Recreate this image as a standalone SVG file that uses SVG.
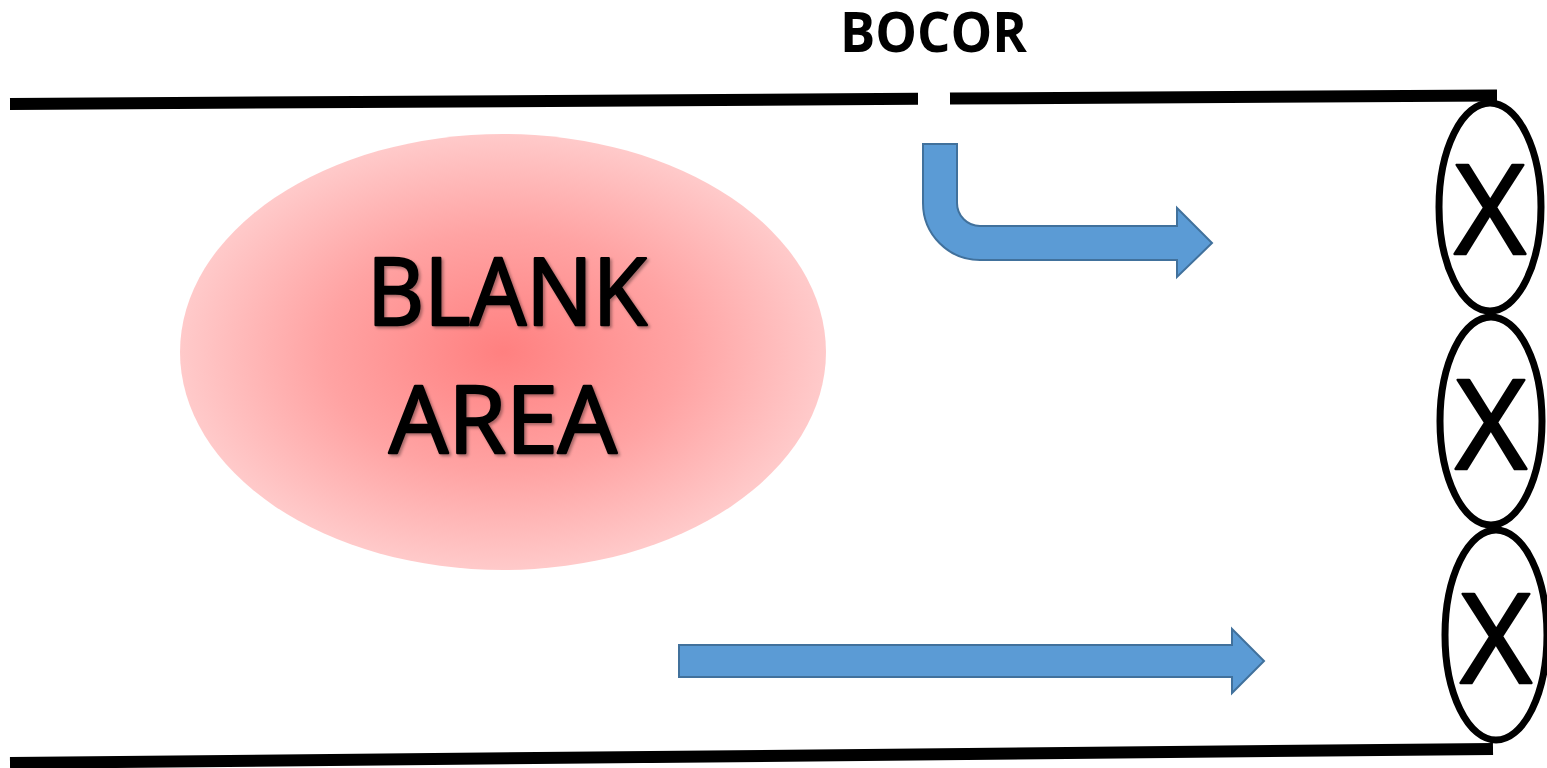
<svg xmlns="http://www.w3.org/2000/svg" width="1547" height="768" viewBox="0 0 1547 768">
  <defs>
    <radialGradient id="blankGrad" cx="0.5" cy="0.5" r="0.5">
      <stop offset="0" stop-color="#ff8080"/>
      <stop offset="0.55" stop-color="#ffa3a3"/>
      <stop offset="1" stop-color="#ffcaca"/>
    </radialGradient>
    <filter id="shadow" x="-10%" y="-10%" width="120%" height="130%">
      <feDropShadow dx="2" dy="2" stdDeviation="1.5" flood-color="#000" flood-opacity="0.35"/>
    </filter>
    <style>
      .wall { stroke: #000; stroke-width: 12; stroke-linecap: butt; fill: none; }
      .arrow { fill: #5b9bd5; stroke: #41719c; stroke-width: 2; }
      .node { fill: none; stroke: #000; stroke-width: 7; }
      .x { font-family: "Open Sans", "Liberation Sans", sans-serif; font-size: 124px; fill: #000; stroke: #000; stroke-width: 2.5; stroke-linejoin: round; text-anchor: middle; }
      .big { font-family: "Open Sans", "Liberation Sans", sans-serif; font-size: 93px; fill: #000; stroke: #000; stroke-width: 2.5; stroke-linejoin: round; }
      .title { font-family: "Open Sans", "Liberation Sans", sans-serif; font-size: 56px; font-weight: bold; fill: #000; }
    </style>
  </defs>
  <rect width="1547" height="768" fill="#fff"/>

  <g id="walls">
    <line class="wall" x1="10" y1="104" x2="918" y2="98.8"/>
    <line class="wall" x1="950" y1="98.6" x2="1497" y2="95.5"/>
    <line class="wall" x1="10" y1="763" x2="1493" y2="749"/>
  </g>

  <g id="title">
    <text class="title" x="840" y="52" textLength="187" lengthAdjust="spacingAndGlyphs">BOCOR</text>
  </g>

  <g id="blank-area">
    <ellipse cx="503" cy="352" rx="323" ry="218" fill="url(#blankGrad)"/>
    <g filter="url(#shadow)">
      <text class="big" x="367" y="325" textLength="280" lengthAdjust="spacingAndGlyphs">BLANK</text>
      <text class="big" x="389" y="453" textLength="228" lengthAdjust="spacingAndGlyphs">AREA</text>
    </g>
  </g>

  <g id="connectors">
    <path class="arrow" d="M923,144 L957,144 L957,203 A23,23 0 0 0 980,226 L1177,226 L1177,208 L1212,243 L1177,277 L1177,260 L980,260 A57,57 0 0 1 923,203 Z"/>
    <path class="arrow" d="M679,645 L1232,645 L1232,629 L1264,661 L1232,693 L1232,677 L679,677 Z"/>
  </g>

  <g id="node-x1">
    <ellipse class="node" cx="1490" cy="207" rx="51" ry="104"/>
    <text class="x" x="1490" y="254">X</text>
  </g>
  <g id="node-x2">
    <ellipse class="node" cx="1491" cy="421" rx="51" ry="104"/>
    <text class="x" x="1491" y="469">X</text>
  </g>
  <g id="node-x3">
    <ellipse class="node" cx="1496" cy="635" rx="51" ry="105"/>
    <text class="x" x="1496" y="683">X</text>
  </g>
</svg>
